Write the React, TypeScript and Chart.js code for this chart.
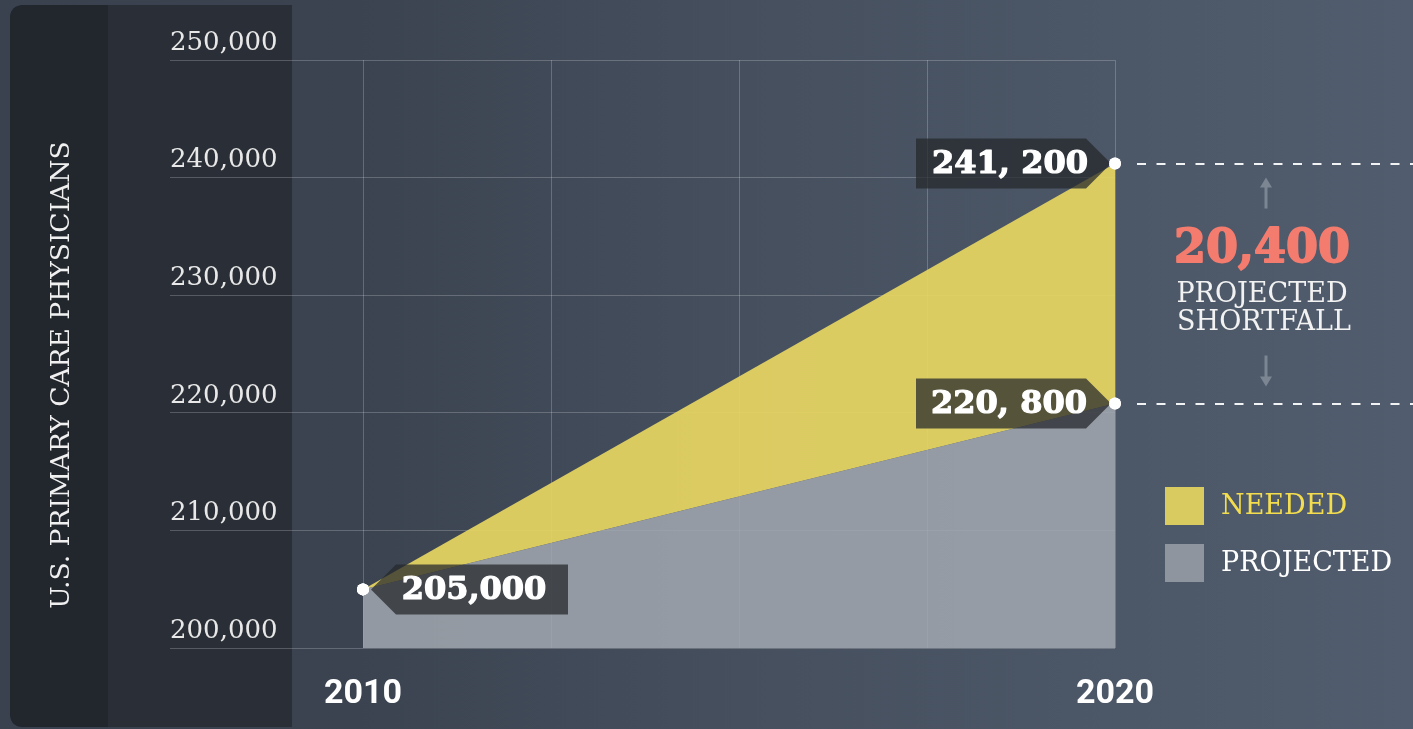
import React, { useEffect, useRef } from "react";
import { Chart, registerables } from "chart.js";

Chart.register(...registerables);

// ---------- data ----------
const years = [2010, 2020];
const projectedValues = [205000, 220800];
const neededValues = [205000, 241200];
const yTickValues = [200000, 210000, 220000, 230000, 240000, 250000];
const xGridYears = [2010, 2012.5, 2015, 2017.5, 2020];
const xTickLabels = ["2010", "2020"];
const seriesLabels = ["PROJECTED", "NEEDED"];
const tagTexts = ["205,000", "241, 200", "220, 800"];
const shortfallLines = ["PROJECTED", "SHORTFALL"];
const yAxisTitle = "U.S. PRIMARY CARE PHYSICIANS";

// ---------- styles ----------
const YELLOW = "rgba(230,213,98,0.93)";
const GREY = "rgba(162,168,176,0.86)";
const LEGEND_YELLOW = "#dacb60";
const LEGEND_GREY = "#8f959e";
const TAG_FILL = "rgba(38,40,44,0.74)";
const SERIF = "'DejaVu Serif', serif";
const HEAVY = "'DejaVu Serif', serif";

function roundRectPath(ctx: CanvasRenderingContext2D, x: number, y: number, w: number, h: number, r: number) {
  ctx.beginPath();
  ctx.moveTo(x + r, y);
  ctx.lineTo(x + w, y);
  ctx.lineTo(x + w, y + h);
  ctx.lineTo(x + r, y + h);
  ctx.quadraticCurveTo(x, y + h, x, y + h - r);
  ctx.lineTo(x, y + r);
  ctx.quadraticCurveTo(x, y, x + r, y);
  ctx.closePath();
}

const backgroundPlugin = {
  id: "bgPlugin",
  beforeDraw(chart: any) {
    const { ctx, width, height } = chart;
    ctx.save();
    const g = ctx.createLinearGradient(0, 0, width, 0);
    g.addColorStop(0, "#3a424f");
    g.addColorStop(0.25, "#3b4350");
    g.addColorStop(0.55, "#46505f");
    g.addColorStop(1, "#515d6e");
    ctx.fillStyle = g;
    ctx.fillRect(0, 0, width, height);
    // panels
    ctx.fillStyle = "#2a2f37";
    roundRectPath(ctx, 10, 5, 282, height - 7, 14);
    ctx.fill();
    ctx.fillStyle = "#22262d";
    roundRectPath(ctx, 10, 5, 98, height - 7, 14);
    ctx.fill();
    ctx.restore();
  },
};

function heavyText(ctx: CanvasRenderingContext2D, text: string, x: number, y: number, color: string, w: number) {
  ctx.fillStyle = color;
  ctx.strokeStyle = color;
  ctx.lineWidth = w;
  ctx.lineJoin = "round";
  ctx.strokeText(text, x, y);
  ctx.fillText(text, x, y);
}

function drawTag(ctx: CanvasRenderingContext2D, tipX: number, y: number, dir: number, bodyW: number, text: string, textCx: number) {
  const h = 25;
  const s = 25;
  ctx.save();
  ctx.beginPath();
  ctx.moveTo(tipX, y);
  ctx.lineTo(tipX + dir * s, y - h);
  ctx.lineTo(tipX + dir * bodyW, y - h);
  ctx.lineTo(tipX + dir * bodyW, y + h);
  ctx.lineTo(tipX + dir * s, y + h);
  ctx.closePath();
  ctx.fillStyle = TAG_FILL;
  ctx.fill();
  ctx.font = `bold 32px ${HEAVY}`;
  ctx.textAlign = "center";
  ctx.textBaseline = "middle";
  heavyText(ctx, text, textCx, y + 1, "#ffffff", 1.2);
  ctx.restore();
}

const overlayPlugin = {
  id: "overlayPlugin",
  afterDatasetsDraw(chart: any) {
    const { ctx, chartArea } = chart;
    const xs = chart.scales.x;
    const ys = chart.scales.y;
    const x0 = xs.getPixelForValue(years[0]);
    const x1 = xs.getPixelForValue(years[1]);
    const yStart = ys.getPixelForValue(projectedValues[0]);
    const yNeed = ys.getPixelForValue(neededValues[1]);
    const yProj = ys.getPixelForValue(projectedValues[1]);

    // tags
    drawTag(ctx, x0 + 8, yStart, 1, 197, tagTexts[0], x0 + 111);
    drawTag(ctx, x1 - 4, yNeed, -1, 195, tagTexts[1], x1 - 105);
    drawTag(ctx, x1 - 4, yProj, -1, 195, tagTexts[2], x1 - 106);

    // redraw points on top of tags
    chart.data.datasets.forEach((_d: any, i: number) => {
      chart.getDatasetMeta(i).data.forEach((p: any) => p.draw(ctx));
    });

    ctx.save();
    // dashed lines
    ctx.strokeStyle = "rgba(255,255,255,0.92)";
    ctx.lineWidth = 2;
    ctx.setLineDash([9, 10.5]);
    [yNeed, yProj].forEach((yy) => {
      ctx.beginPath();
      ctx.moveTo(x1 + 22, Math.round(yy));
      ctx.lineTo(chart.width, Math.round(yy));
      ctx.stroke();
    });
    ctx.setLineDash([]);

    // arrows
    const ax = 1266;
    ctx.strokeStyle = "#7c8693";
    ctx.fillStyle = "#7c8693";
    ctx.lineWidth = 3;
    const upTop = yNeed + 14;
    ctx.beginPath();
    ctx.moveTo(ax, upTop + 8);
    ctx.lineTo(ax, upTop + 31);
    ctx.stroke();
    ctx.beginPath();
    ctx.moveTo(ax, upTop);
    ctx.lineTo(ax - 6, upTop + 10);
    ctx.lineTo(ax + 6, upTop + 10);
    ctx.closePath();
    ctx.fill();
    const dnBot = yProj - 17;
    ctx.beginPath();
    ctx.moveTo(ax, dnBot - 8);
    ctx.lineTo(ax, dnBot - 31);
    ctx.stroke();
    ctx.beginPath();
    ctx.moveTo(ax, dnBot);
    ctx.lineTo(ax - 6, dnBot - 10);
    ctx.lineTo(ax + 6, dnBot - 10);
    ctx.closePath();
    ctx.fill();

    // shortfall text
    const shortfall = neededValues[1] - projectedValues[1];
    const midY = (yNeed + yProj) / 2;
    ctx.textAlign = "center";
    ctx.textBaseline = "middle";
    ctx.font = `bold 46px ${HEAVY}`;
    heavyText(ctx, shortfall.toLocaleString("en-US"), 1262, midY - 33, "#f47c6e", 1.8);
    ctx.fillStyle = "#f2f2f2";
    ctx.font = `27px ${SERIF}`;
    ctx.fillText(shortfallLines[0], 1262, midY + 11);
    ctx.fillText(shortfallLines[1], 1264, midY + 39);

    // legend (NEEDED first, then PROJECTED)
    const legendItems = [
      { label: seriesLabels[1], box: LEGEND_YELLOW, text: "#f3dd4f" },
      { label: seriesLabels[0], box: LEGEND_GREY, text: "#ffffff" },
    ];
    legendItems.forEach((it, i) => {
      const top = 487 + i * 57;
      ctx.fillStyle = it.box;
      ctx.fillRect(1165, top, 39, 38);
      ctx.fillStyle = it.text;
      ctx.textAlign = "left";
      ctx.font = `27px ${SERIF}`;
      ctx.fillText(it.label, 1221, top + 20);
    });

    // y axis title
    ctx.translate(chartArea.left - 108, (chartArea.top + chartArea.bottom) / 2 + 21);
    ctx.rotate(-Math.PI / 2);
    ctx.textAlign = "center";
    ctx.fillStyle = "#f0f0f0";
    ctx.font = `26.5px ${SERIF}`;
    ctx.fillText(yAxisTitle, 0, 0);
    ctx.restore();
  },
};

export default function App() {
  const canvasRef = useRef<HTMLCanvasElement | null>(null);

  useEffect(() => {
    document.body.style.margin = "0";
    document.body.style.overflow = "hidden";
    const canvas = canvasRef.current;
    if (!canvas) return;

    const pxPerYear = (1115 - 363) / 10;
    const xMin = years[0] - (363 - 170) / pxPerYear;

    const chart = new Chart(canvas, {
      type: "line",
      data: {
        datasets: [
          {
            label: seriesLabels[0],
            data: years.map((x, i) => ({ x, y: projectedValues[i] })),
            backgroundColor: GREY,
            borderColor: "rgba(0,0,0,0)",
            borderWidth: 0,
            fill: "start",
            pointRadius: 6,
            pointHoverRadius: 6,
            pointBackgroundColor: "#ffffff",
            pointBorderWidth: 0,
            tension: 0,
            clip: false,
          },
          {
            label: seriesLabels[1],
            data: years.map((x, i) => ({ x, y: neededValues[i] })),
            backgroundColor: YELLOW,
            borderColor: "rgba(0,0,0,0)",
            borderWidth: 0,
            fill: "-1",
            pointRadius: 6,
            pointHoverRadius: 6,
            pointBackgroundColor: "#ffffff",
            pointBorderWidth: 0,
            tension: 0,
            clip: false,
          },
        ],
      } as any,
      options: {
        responsive: false,
        animation: false,
        events: [],
        layout: { padding: { left: 170, right: 298, top: 60, bottom: -12 } },
        plugins: {
          legend: { display: false },
          tooltip: { enabled: false },
          title: { display: false },
        },
        scales: {
          x: {
            type: "linear",
            min: xMin,
            max: years[1],
            afterBuildTicks: (scale: any) => {
              scale.ticks = xGridYears.map((v) => ({ value: v }));
            },
            grid: { color: "rgba(255,255,255,0.21)", lineWidth: 1, drawTicks: false },
            border: { display: false },
            ticks: {
              padding: 26,
              color: "#ffffff",
              font: { family: "Roboto", weight: "bold", size: 34 },
              maxRotation: 0,
              autoSkip: false,
              callback: (v: any) => {
                const idx = years.indexOf(Number(v));
                return idx >= 0 ? xTickLabels[idx] : "";
              },
            },
          },
          y: {
            type: "linear",
            min: yTickValues[0],
            max: yTickValues[yTickValues.length - 1],
            afterBuildTicks: (scale: any) => {
              scale.ticks = yTickValues.map((v) => ({ value: v }));
            },
            grid: { color: "rgba(255,255,255,0.21)", lineWidth: 1, drawTicks: false },
            border: { display: false },
            ticks: {
              mirror: true,
              padding: 0,
              labelOffset: -17,
              color: "#e8e8e8",
              font: { family: "'DejaVu Serif'", size: 26 },
              callback: (v: any) => Number(v).toLocaleString("en-US"),
            },
          },
        },
      } as any,
      plugins: [backgroundPlugin, overlayPlugin],
    });

    return () => chart.destroy();
  }, []);

  return (
    <div style={{ width: 1413, height: 729 }}>
      <canvas ref={canvasRef} width={1413} height={729} style={{ display: "block" }} />
    </div>
  );
}
